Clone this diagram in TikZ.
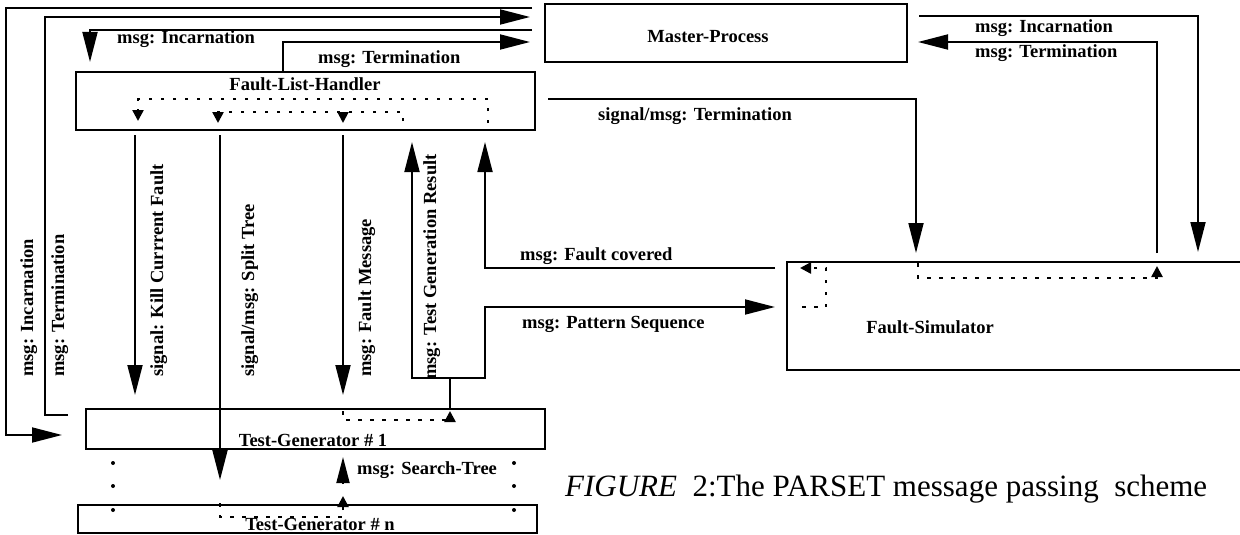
\documentclass[tikz,border=0pt]{standalone}
\usepackage{fontspec}
\setmainfont{Liberation Serif}
\usetikzlibrary{arrows.meta,calc}
\begin{document}
\begin{tikzpicture}[x=1pt,y=-1pt,
  box/.style={draw,line width=1.8pt,inner sep=0pt},
  lbl/.style={font=\bfseries\fontsize{18.5}{21}\selectfont,inner sep=0pt},
  hlbl/.style={lbl,anchor=base west},
  vlbl/.style={lbl,rotate=90,anchor=base west},
  wire/.style={line width=1.8pt},
  bigtip/.style={-{Triangle[length=30pt,width=15pt]}},
  dotline/.style={line width=2.5pt,dash pattern=on 3.5pt off 8.5pt},
  smalltip/.style={-{Triangle[length=11pt,width=11pt]}},
  dot/.style={circle,fill,inner sep=0pt,minimum size=4pt}
]
\useasboundingbox (0,0) rectangle (1240,535);

% process boxes
\node[box,minimum width=362pt,minimum height=58pt] (mp) at (726,33) {};
\node[lbl] (mpT) at (708,37) {Master-Process};
\node[box,minimum width=459pt,minimum height=58pt] (flh) at (305.5,101) {};
\node[lbl] (flhT) at (305,84) {Fault-List-Handler};
\node[box,minimum width=459pt,minimum height=40pt] (tg1) at (315.5,429) {};
\node[lbl,anchor=base] (tg1T) at (313,446) {Test-Generator \# 1};
\node[box,minimum width=459pt,minimum height=28pt] (tgn) at (307.5,519) {};
\node[lbl,anchor=base] (tgnT) at (320,530) {Test-Generator \# n};
\node[box,minimum width=470pt,minimum height=108pt] (fs) at (1022,316) {};
\node[lbl] (fsT) at (930,327) {Fault-Simulator};

% end points of the connectors
\coordinate (c1s) at (532,8);   \coordinate (c1e) at (62,435);
\coordinate (c2s) at (68,415);  \coordinate (c2e) at (530,17);
\coordinate (c3s) at (532,30);  \coordinate (c3e) at (90,62);
\coordinate (c4s) at (283,72);  \coordinate (c4e) at (530,42);
\coordinate (c5s) at (548,99);  \coordinate (c5e) at (916,253);
\coordinate (c6s) at (919,16);  \coordinate (c6e) at (1198,252);
\coordinate (c7s) at (1157,253);\coordinate (c7e) at (918,42);
\coordinate (k1) at (135,135);  \coordinate (k2) at (135,395);
\coordinate (s1) at (220,135);  \coordinate (s2) at (220,480);
\coordinate (m1) at (343,135);  \coordinate (m2) at (343,395);
\coordinate (t0) at (450,408);  \coordinate (tj) at (450,378);
\coordinate (t1) at (412,142);  \coordinate (t2) at (485,307);
\coordinate (ps) at (775,307);
\coordinate (fc) at (775,268);  \coordinate (fce) at (485,142);
\coordinate (st1) at (343,484); \coordinate (st2) at (343,457);

% master / handler / generator messages
\draw[wire,bigtip] (c1s) -- (6,8) -- (6,435) -- (c1e);
\draw[wire,bigtip] (c2s) -- (45,415) -- (45,17) -- (c2e);
\draw[wire,bigtip] (c3s) -- (90,30) -- (c3e);
\draw[wire,bigtip] (c4s) -- (283,42) -- (c4e);
\draw[wire,bigtip] (c5s) -- (916,99) -- (c5e);
\draw[wire,bigtip] (c6s) -- (1198,16) -- (c6e);
\draw[wire,bigtip] (c7s) -- (1157,42) -- (c7e);

% handler to generators
\draw[wire,bigtip] (k1) -- (k2);
\draw[wire,bigtip] (s1) -- (s2);
\draw[wire,bigtip] (m1) -- (m2);

% generator results
\draw[wire] (t0) -- (tj);
\draw[wire,bigtip] (tj) -- (412,378) -- (t1);
\draw[wire,bigtip] (tj) -- (485,378) -- (t2) -- (ps);
\draw[wire,bigtip] (fc) -- (485,268) -- (fce);
\draw[wire,-{Triangle[length=26pt,width=13pt]}] (st1) -- (st2);

% internal flows
\draw[dotline,smalltip] (488,123) -- (488,99) -- (138,99) -- (138,121);
\draw[dotline,smalltip] (403,121) -- (403,112) -- (218,112) -- (218,123);
\draw[line width=2pt,smalltip] (343,112) -- (343,123);
\draw[dotline,smalltip] (343,411) -- (343,420) -- (450,420) -- (450,411);
\draw[dotline,smalltip] (220,503) -- (220,517) -- (343,517) -- (343,496);
\draw[dotline,smalltip] (802,307) -- (826,307) -- (826,268) -- (800,268);
\draw[dotline,smalltip] (918,263) -- (918,278) -- (1157,278) -- (1157,266);

% continuation dots between the generators
\foreach \yy [count=\i] in {463,486,510} {
  \node[dot] (dl\i) at (113,\yy) {};
  \node[dot] (dr\i) at (514,\yy) {};
}

% message labels
\node[hlbl] (l1) at (117,44) {msg: Incarnation};
\node[hlbl] (l2) at (318,64) {msg: Termination};
\node[hlbl] (l3) at (975,33) {msg: Incarnation};
\node[hlbl] (l4) at (975,58) {msg: Termination};
\node[hlbl] (l5) at (598,121) {signal/msg: Termination};
\node[hlbl] (l6) at (520,260) {msg: Fault covered};
\node[hlbl] (l7) at (522,328) {msg: Pattern Sequence};
\node[hlbl] (l8) at (357,474) {msg: Search-Tree};
\node[vlbl] (v1) at (33,377) {msg: Incarnation};
\node[vlbl] (v2) at (64,377) {msg: Termination};
\node[vlbl] (v3) at (163,377) {signal: Kill Currrent Fault};
\node[vlbl] (v4) at (254,377) {signal/msg: Split Tree};
\node[vlbl] (v5) at (371,377) {msg: Fault Message};
\node[vlbl] (v6) at (436,380) {msg: Test Generation Result};

% caption
\node[anchor=base west,inner sep=0pt,font=\fontsize{31}{35}\selectfont] (cap) at (565,496)
  {\textit{FIGURE}\ \ 2:The PARSET message passing\ \ scheme};
\end{tikzpicture}
\end{document}
